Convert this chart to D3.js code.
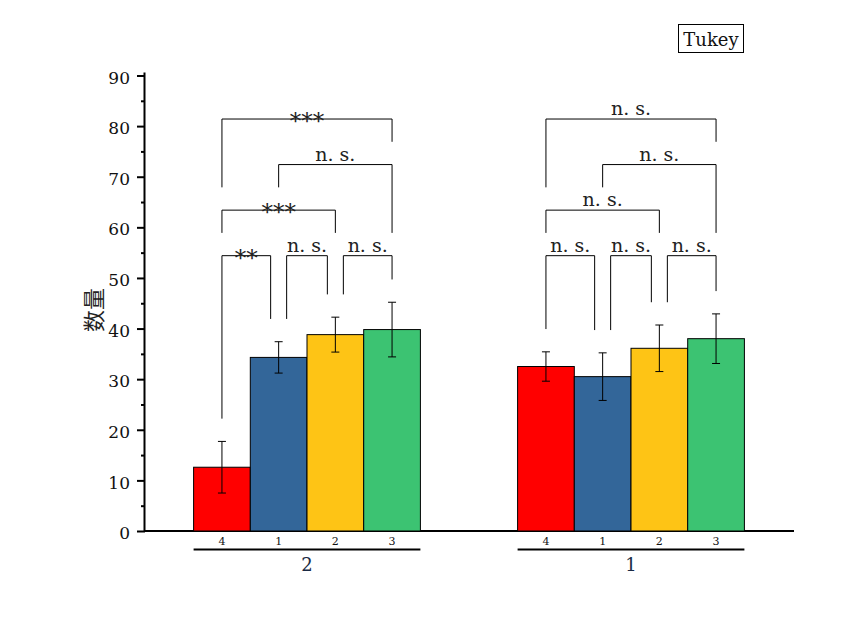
<!DOCTYPE html>
<html><head><meta charset="utf-8">
<script src="https://cdn.jsdelivr.net/npm/d3@7"></script>
<style>body{margin:0;background:#fff}svg{display:block}</style>
</head><body><svg id="c" width="864" height="624"></svg>
<script>
const groups = ["2", "1"];
const categories = ["4", "1", "2", "3"];
const colors = ["#FF0000", "#336699", "#FEC415", "#3CC372"];
const meansG2 = [12.6, 34.3, 38.8, 39.8];
const errsG2 = [5.1, 3.1, 3.45, 5.4];
const meansG1 = [32.5, 30.5, 36.1, 38.0];
const errsG1 = [2.9, 4.7, 4.6, 4.9];
// comparisons: [barA, barB, level, label]
const compsG2 = [[0,1,0,"**"],[1,2,0,"n. s."],[2,3,0,"n. s."],[0,2,1,"***"],[1,3,2,"n. s."],[0,3,3,"***"]];
const compsG1 = [[0,1,0,"n. s."],[1,2,0,"n. s."],[2,3,0,"n. s."],[0,2,1,"n. s."],[1,3,2,"n. s."],[0,3,3,"n. s."]];
const levelValues = [54.4, 63.4, 72.4, 81.4];
const legGap = 4.5;
const yTicks = [0,10,20,30,40,50,60,70,80,90];
const yMinorTicks = [5,15,25,35,45,55,65,75,85];

const data = [
  {g: "2", means: meansG2, errs: errsG2, comps: compsG2},
  {g: "1", means: meansG1, errs: errsG1, comps: compsG1}
];

const svg = d3.select("#c");
const serif = "'DejaVu Serif', serif";
const x0 = d3.scaleBand().domain(groups).range([145, 793]).paddingInner(0.3).paddingOuter(0.15);
const x1 = d3.scaleBand().domain(categories).range([0, x0.bandwidth()]).padding(0);
const y = d3.scaleLinear().domain([0, 90]).range([531, 75.5]);

// y axis
const ax = svg.append("g").attr("transform", "translate(145,0)");
ax.call(d3.axisLeft(y).tickValues(yTicks).tickSize(8).tickPadding(7).tickFormat(d3.format("d")));
ax.select(".domain").remove();
ax.selectAll(".tick line").attr("stroke", "#000").attr("stroke-width", 2);
ax.selectAll(".tick text").attr("font-family", serif).attr("font-size", 17).attr("fill", "#111").attr("dy", "0.45em");
const axm = svg.append("g").attr("transform", "translate(145,0)");
axm.call(d3.axisLeft(y).tickValues(yMinorTicks).tickSize(4).tickFormat(""));
axm.select(".domain").remove();
axm.selectAll(".tick line").attr("stroke", "#000").attr("stroke-width", 2);
svg.append("line").attr("x1", 144.5).attr("x2", 144.5).attr("y1", y(90) - 3).attr("y2", y(0) + 1)
  .attr("stroke", "#000").attr("stroke-width", 2);
svg.append("line").attr("x1", 144).attr("x2", 794).attr("y1", y(0)).attr("y2", y(0))
  .attr("stroke", "#000").attr("stroke-width", 2);

// y title
svg.append("text").attr("transform", "translate(102,310) rotate(-90)").attr("text-anchor", "middle")
  .attr("font-family", "'Noto Sans CJK SC', sans-serif").attr("font-size", 22).attr("fill", "#222").text("数量");

data.forEach(d => {
  const gx = x0(d.g);
  const g = svg.append("g").attr("transform", `translate(${gx},0)`);
  const cx = i => x1(categories[i]) + x1.bandwidth() / 2;
  // bars
  g.selectAll("rect.bar").data(d.means).enter().append("rect")
    .attr("x", (v, i) => x1(categories[i])).attr("width", x1.bandwidth())
    .attr("y", v => y(v)).attr("height", v => y(0) - y(v))
    .attr("fill", (v, i) => colors[i]).attr("stroke", "#000").attr("stroke-width", 1);
  // error bars
  d.means.forEach((m, i) => {
    const e = d.errs[i], c = cx(i);
    g.append("line").attr("x1", c).attr("x2", c).attr("y1", y(m + e)).attr("y2", y(m - e)).attr("stroke", "#000");
    [m + e, m - e].forEach(v => g.append("line").attr("x1", c - 4).attr("x2", c + 4).attr("y1", y(v)).attr("y2", y(v)).attr("stroke", "#000"));
  });
  // x sub labels
  categories.forEach((c, i) => {
    g.append("text").attr("x", cx(i)).attr("y", 545).attr("text-anchor", "middle")
      .attr("font-family", serif).attr("font-size", 11).attr("fill", "#111").text(c);
  });
  g.append("line").attr("x1", 0).attr("x2", x0.bandwidth()).attr("y1", 549.5).attr("y2", 549.5)
    .attr("stroke", "#000").attr("stroke-width", 2);
  g.append("text").attr("x", x0.bandwidth() / 2).attr("y", 571).attr("text-anchor", "middle")
    .attr("font-family", serif).attr("font-size", 18).attr("fill", "#1a2a44").text(d.g);
  // brackets
  const legEnd = (k, level) => {
    let base = d.means[k] + d.errs[k];
    d.comps.forEach(c => {
      if (c[2] < level && c[0] <= k && k <= c[1]) base = Math.max(base, levelValues[c[2]]);
    });
    return base + legGap;
  };
  d.comps.forEach(c => {
    const [a, b, level, label] = c;
    const shareLeft = d.comps.some(o => o !== c && o[2] === level && o[1] === a);
    const shareRight = d.comps.some(o => o !== c && o[2] === level && o[0] === b);
    const xa = cx(a) + (shareLeft ? 8 : 0);
    const xb = cx(b) - (shareRight ? 8 : 0);
    const ly = y(levelValues[level]);
    g.append("path").attr("fill", "none").attr("stroke", "#000").attr("stroke-width", 1)
      .attr("d", `M${xa},${y(legEnd(a, level))}V${ly}H${xb}V${y(legEnd(b, level))}`);
    const star = label.indexOf("*") >= 0;
    g.append("text").attr("x", (xa + xb) / 2).attr("y", star ? ly + 10 : ly - 4).attr("text-anchor", "middle")
      .attr("font-family", serif).attr("font-size", star ? 23 : 19).attr("fill", "#222").text(label);
  });
});

// Tukey box
svg.append("rect").attr("x", 678.5).attr("y", 24.5).attr("width", 65).attr("height", 28)
  .attr("fill", "#fff").attr("stroke", "#000").attr("stroke-width", 1);
svg.append("text").attr("x", 711).attr("y", 46).attr("text-anchor", "middle")
  .attr("font-family", serif).attr("font-size", 18).attr("fill", "#111").text("Tukey");
</script></body></html>
